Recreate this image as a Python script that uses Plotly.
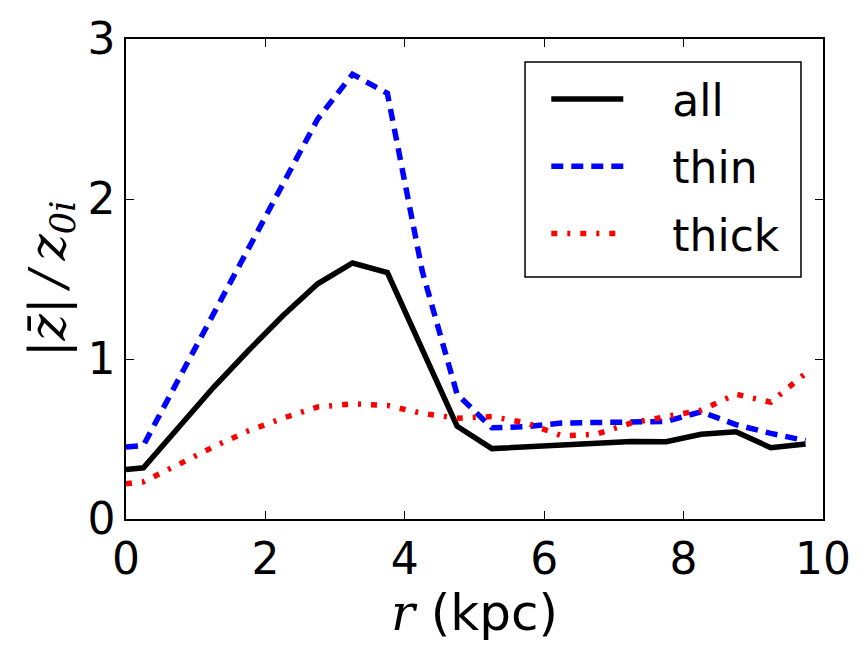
import plotly.graph_objects as go

r = [0.0, 0.25, 0.75, 1.25, 1.75, 2.25, 2.75, 3.25, 3.75, 4.25, 4.75, 5.25, 5.75,
     6.25, 6.75, 7.25, 7.75, 8.25, 8.75, 9.25, 9.75]
z_all = [0.31, 0.32, 0.57, 0.82, 1.05, 1.27, 1.47, 1.60, 1.54, 1.06, 0.58, 0.44, 0.45,
         0.465, 0.467, 0.485, 0.483, 0.53, 0.545, 0.446, 0.469]
z_thin = [0.45, 0.46, 0.87, 1.28, 1.69, 2.10, 2.50, 2.78, 2.66, 1.55, 0.78, 0.57, 0.577,
          0.60, 0.60, 0.606, 0.61, 0.67, 0.59, 0.535, 0.49]
z_thick = [0.22, 0.233, 0.34, 0.45, 0.55, 0.63, 0.70, 0.72, 0.71, 0.66, 0.63, 0.64, 0.60,
           0.52, 0.53, 0.60, 0.64, 0.68, 0.78, 0.73, 0.91]

series_names = ["all", "thin", "thick"]
x_ticks = [0, 2, 4, 6, 8, 10]
y_ticks = [0, 1, 2, 3]

FONT = "DejaVu Sans"

fig = go.Figure()
fig.add_trace(go.Scatter(x=r, y=z_all, mode="lines", name="\u2003" + series_names[0],
                         legendgroup="a",
                         line=dict(color="black", width=5.5)))
fig.add_trace(go.Scatter(x=r, y=z_thin, mode="lines", name="\u2003" + series_names[1],
                         legendgroup="b",
                         line=dict(color="#0000ff", width=5.5, dash="12px,8px")))
fig.add_trace(go.Scatter(x=r, y=z_thick, mode="lines", name="\u2003" + series_names[2],
                         legendgroup="c",
                         line=dict(color="#ff0000", width=5.5, dash="6px,10px,3px,10px")))

axis_common = dict(
    showgrid=False, zeroline=False, showline=True, linecolor="black", linewidth=1.5,
    mirror="allticks", ticks="inside", ticklen=8, tickwidth=1, tickcolor="black",
    tickfont=dict(family=FONT, size=44, color="black"),
)

fig.update_xaxes(range=[0, 10], tickvals=x_ticks, ticktext=[str(v) for v in x_ticks],
                 title=dict(text='<span style="font-family:DejaVu Serif"><i>r</i></span> (kpc)',
                            font=dict(family=FONT, size=50, color="black"), standoff=6),
                 **axis_common)
fig.update_yaxes(range=[0, 3], tickvals=y_ticks, ticktext=[str(v) for v in y_ticks],
                 title=dict(text='<span style="font-family:DejaVu Serif"><i>|z̄|\u2009/\u2009z<sub>0i</sub></i></span>',
                            font=dict(family=FONT, size=50, color="black"), standoff=6),
                 ticklabelstandoff=0,
                 **axis_common)

# legend frame (matplotlib-style box)
fig.add_shape(type="rect", xref="paper", yref="paper",
              x0=0.5725, x1=0.9684, y0=0.504, y1=0.952,
              line=dict(color="black", width=1.5), fillcolor="white", layer="above")

fig.update_layout(
    width=866, height=652,
    margin=dict(l=126, r=43, t=39, b=133),
    plot_bgcolor="white", paper_bgcolor="white",
    font=dict(family=FONT, color="black"),
    legend=dict(x=0.603, y=0.948, xanchor="left", yanchor="top",
                bgcolor="rgba(0,0,0,0)", borderwidth=0,
                font=dict(family=FONT, size=44, color="black"),
                itemwidth=72, tracegroupgap=7),
    showlegend=True,
)

fig.write_html("out.html")
